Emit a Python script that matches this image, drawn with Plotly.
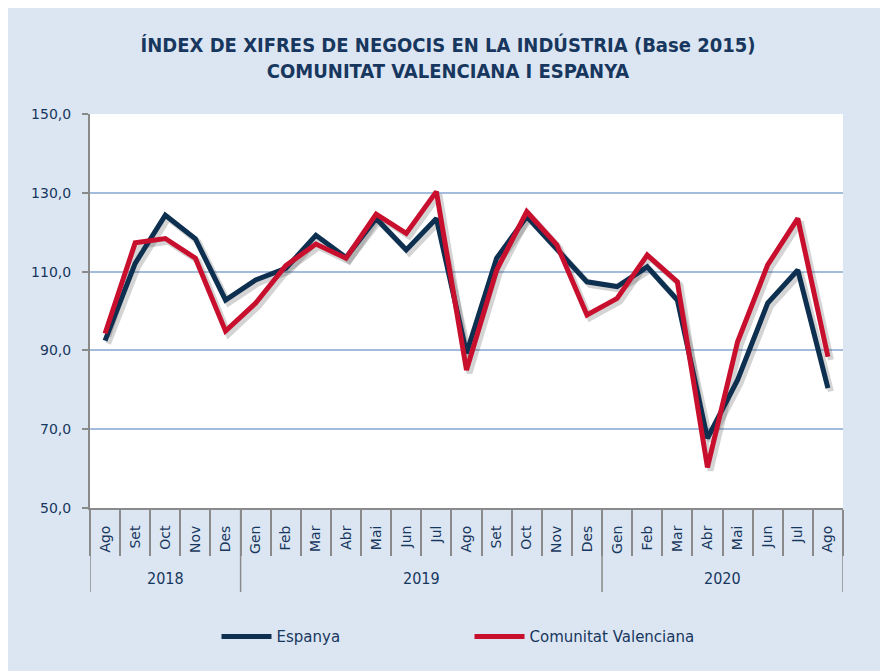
import plotly.graph_objects as go

years = ["2018"] * 5 + ["2019"] * 12 + ["2020"] * 8
months = ["Ago", "Set", "Oct", "Nov", "Des",
          "Gen", "Feb", "Mar", "Abr", "Mai", "Jun", "Jul", "Ago", "Set", "Oct", "Nov", "Des",
          "Gen", "Feb", "Mar", "Abr", "Mai", "Jun", "Jul", "Ago"]
espanya = [92.5, 112.1, 124.3, 118.3, 102.8,
           107.9, 110.8, 119.2, 113.6, 123.5, 115.5, 123.5, 89.3, 113.4, 124.0, 115.9, 107.4,
           106.2, 111.2, 102.8, 67.7, 82.5, 102.0, 110.4, 80.4]
valenciana = [94.3, 117.3, 118.4, 113.4, 94.9,
              102.0, 111.5, 117.0, 113.4, 124.6, 119.7, 130.3, 85.0, 110.4, 125.2, 116.8, 99.0,
              103.2, 114.2, 107.4, 60.3, 92.2, 111.7, 123.5, 88.4]
series_names = ["Espanya", "Comunitat Valenciana"]
series_colors = ["#0d2f50", "#c8102e"]
title_text = "ÍNDEX DE XIFRES DE NEGOCIS EN LA INDÚSTRIA (Base 2015)<br>COMUNITAT VALENCIANA I ESPANYA"

TXT = "#17375e"
GRID = "#a3bcdc"
AX = "#8a8a8a"
BG = "#dce6f2"

idx = list(range(len(months)))

# year groups derived from the category list
groups = []
for i, yv in enumerate(years):
    if not groups or groups[-1][0] != yv:
        groups.append([yv, i, i])
    else:
        groups[-1][2] = i

fig = go.Figure()
# dummy trace on the base axes
fig.add_trace(go.Scatter(x=idx, y=espanya, mode="lines", line=dict(color="rgba(0,0,0,0)", width=0),
                         showlegend=False, hoverinfo="skip"))
# shadows
for vals in (espanya, valenciana):
    fig.add_trace(go.Scatter(x=idx, y=vals, mode="lines", xaxis="x2", yaxis="y2",
                             line=dict(color="rgba(60,60,60,0.22)", width=6),
                             showlegend=False, hoverinfo="skip"))
# main lines
for vals, name, col in zip((espanya, valenciana), series_names, series_colors):
    fig.add_trace(go.Scatter(x=idx, y=vals, mode="lines", name=name, xaxis="x3", yaxis="y3",
                             line=dict(color=col, width=5), customdata=months,
                             hovertemplate="%{customdata}: %{y:.1f}<extra>" + name + "</extra>"))

hidden_x = dict(overlaying="x", showgrid=False, showticklabels=False, ticks="",
                showline=False, zeroline=False)
hidden_y = dict(overlaying="y", showgrid=False, showticklabels=False, ticks="",
                showline=False, zeroline=False)

shapes = []
annotations = []
bounds = [groups[0][1] - 0.5] + [g[2] + 0.5 for g in groups]
for b in bounds:
    shapes.append(dict(type="line", xref="x", yref="paper", x0=b, x1=b, y0=0, y1=-0.213,
                       line=dict(color=AX, width=1.5)))
for yv, i0, i1 in groups:
    annotations.append(dict(text=yv, xref="x", yref="paper", x=(i0 + i1) / 2, y=-0.178,
                            yanchor="middle", xanchor="center", showarrow=False,
                            font=dict(family="DejaVu Sans Condensed, sans-serif", size=16, color=TXT)))

fig.update_layout(
    width=880, height=663,
    margin=dict(l=82, r=45, t=106, b=163),
    paper_bgcolor=BG,
    plot_bgcolor="white",
    separators=",.",
    font=dict(family="DejaVu Sans, Verdana, sans-serif", color=TXT, size=14),
    title=dict(text=title_text, x=0.5, xanchor="center", y=0.934, yanchor="middle",
               font=dict(family="DejaVu Sans Condensed, sans-serif",
                         size=20, color=TXT, weight="bold")),
    xaxis=dict(range=[-0.5, 24.5], showgrid=False, zeroline=False,
               showline=True, linecolor=AX, linewidth=2,
               tickmode="array", tickvals=idx, ticktext=months, ticks="",
               tickangle=-90, tickfont=dict(size=14, color=TXT), ticklabelstandoff=10,
               minor=dict(tickmode="linear", tick0=-0.5, dtick=1, ticks="outside",
                          ticklen=46, tickcolor=AX, tickwidth=1.5, showgrid=False)),
    yaxis=dict(range=[50, 150], dtick=20, tick0=50, tickformat=".1f",
               showgrid=True, gridcolor=GRID, gridwidth=1.5,
               showline=True, linecolor=AX, linewidth=2,
               ticks="outside", ticklen=6, tickcolor=AX, tickwidth=1.5,
               tickfont=dict(size=14, color=TXT), ticklabelstandoff=8, zeroline=False),
    xaxis2=dict(hidden_x, range=[-0.6, 24.4]),
    yaxis2=dict(hidden_y, range=[50.8, 150.8]),
    xaxis3=dict(hidden_x, range=[-0.5, 24.5]),
    yaxis3=dict(hidden_y, range=[50, 150]),
    legend=dict(orientation="h", x=0.168, xanchor="left", y=-0.285, yanchor="top",
                entrywidth=188, entrywidthmode="pixels", itemwidth=50,
                font=dict(size=15, color=TXT), bgcolor="rgba(0,0,0,0)"),
    shapes=shapes,
    annotations=annotations,
    showlegend=True,
)

fig.write_html("out.html")
